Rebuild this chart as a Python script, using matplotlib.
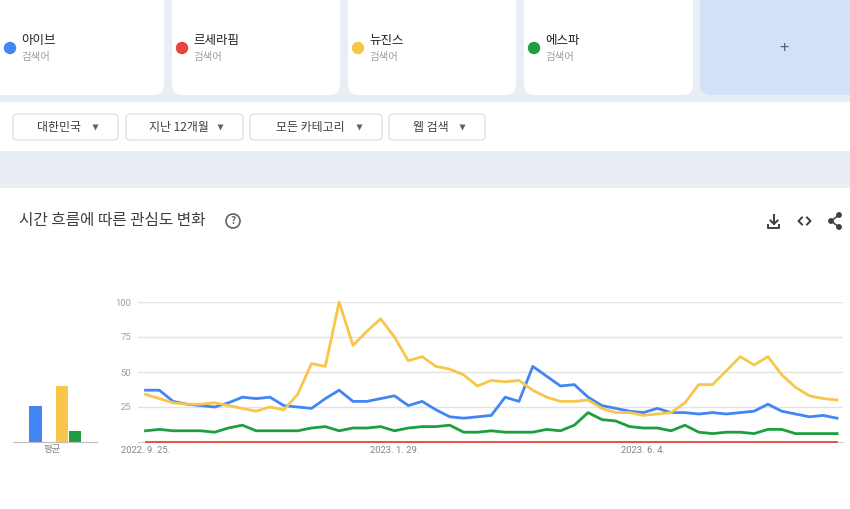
import numpy as np
import pandas as pd
import matplotlib
matplotlib.use('Agg')
import matplotlib.pyplot as plt
from matplotlib.patches import FancyBboxPatch, Rectangle, Circle

plt.rcParams['font.family'] = ['Noto Sans CJK KR', 'DejaVu Sans']

# 검색어 / 색상
terms = ['아이브', '르세라핌', '뉴진스', '에스파']
colors = ['#4285f4', '#e8453c', '#f7c64b', '#1e9e40']
averages = [26, 0, 40, 8]

# 주간 관심도 (2022. 9. 25. 부터)
start_date = '2022-09-25'
ive = [37, 37, 29, 27, 26, 25, 28, 32, 31, 32, 26, 25, 24, 31, 37, 29, 29, 31, 33, 26,
       29, 23, 18, 17, 18, 19, 32, 29, 54, 47, 40, 41, 32, 26, 24, 22, 21, 24, 21, 21,
       20, 21, 20, 21, 22, 27, 22, 20, 18, 19, 17]
lesserafim = [0, 0, 0, 0, 0, 0, 0, 0, 0, 0, 0, 0, 0, 0, 0, 0, 0, 0, 0, 0,
              0, 0, 0, 0, 0, 0, 0, 0, 0, 0, 0, 0, 0, 0, 0, 0, 0, 0, 0, 0,
              0, 0, 0, 0, 0, 0, 0, 0, 0, 0, 0]
newjeans = [34, 31, 28, 27, 27, 28, 26, 24, 22, 25, 23, 34, 56, 54, 100, 69, 79, 88, 75, 58,
            61, 54, 52, 48, 40, 44, 43, 44, 37, 32, 29, 29, 30, 24, 21, 21, 19, 20, 21, 28,
            41, 41, 51, 61, 55, 61, 48, 39, 33, 31, 30]
aespa = [8, 9, 8, 8, 8, 7, 10, 12, 8, 8, 8, 8, 10, 11, 8, 10, 10, 11, 8, 10,
         11, 11, 12, 7, 7, 8, 7, 7, 7, 9, 8, 12, 21, 16, 15, 11, 10, 10, 8, 12,
         7, 6, 7, 7, 6, 9, 9, 6, 6, 6, 6]

tick_dates = ['2022-09-25', '2023-01-29', '2023-06-04']
tick_labels = ['2022. 9. 25.', '2023. 1. 29.', '2023. 6. 4.']
filters = ['대한민국', '지난 12개월', '모든 카테고리', '웹 검색']

series = [ive, lesserafim, newjeans, aespa]
dates = pd.date_range(start_date, periods=len(ive), freq='7D')

W, H = 850, 509
fig = plt.figure(figsize=(W / 100, H / 100), dpi=100)
fig.patch.set_facecolor('#e9edf4')

# --- 배경 UI (픽셀 좌표) ---
bg = fig.add_axes([0, 0, 1, 1])
bg.set_xlim(0, W)
bg.set_ylim(H, 0)
bg.axis('off')

def rbox(x, y, w, h, fc, ec='none', r=8, lw=1):
    bg.add_patch(FancyBboxPatch((x, y), w, h, boxstyle=f'round,pad=0,rounding_size={r}',
                                fc=fc, ec=ec, lw=lw))

card_x = [-10, 172, 348, 524]
card_w = [174, 168, 168, 169]
for cx, cw, term, c in zip(card_x, card_w, terms, colors):
    rbox(cx, -12, cw, 107, 'white', r=10)
    dx = cx + 10 if cx > 0 else 10
    bg.add_patch(Circle((dx, 48), 5.5, color=c))
    bg.text(dx + 11, 40, term, fontsize=9, color='#202124', va='center')
    bg.text(dx + 11, 57, '검색어', fontsize=7.5, color='#9aa0a6', va='center')
rbox(700, -12, 170, 107, '#d3e1f7', r=10)
bg.text(784, 48, '+', fontsize=12, color='#5f6368', ha='center', va='center')

# 필터 줄
bg.add_patch(Rectangle((0, 102), W, 49, fc='white', ec='none'))
btn_x = [13, 126, 250, 389]
btn_w = [105, 117, 132, 96]
for bx, bw, label in zip(btn_x, btn_w, filters):
    rbox(bx, 114, bw, 26, 'white', ec='#dadce0', r=4, lw=0.8)
    bg.text(bx + bw / 2 - 6, 127, label, fontsize=8.6, color='#3c4043',
            ha='center', va='center')
    bg.plot(bx + bw - 23, 127, marker='v', ms=4, color='#5f6368', mec='none')

# 차트 카드
bg.add_patch(Rectangle((0, 188), W, 330, fc='white', ec='none'))
bg.text(19, 221, '시간 흐름에 따른 관심도 변화', fontsize=11.3, color='#3c4043', va='center')
bg.add_patch(Circle((233, 221), 7, fc='none', ec='#5f6368', lw=1.2))
bg.text(233, 221.5, '?', fontsize=7.5, color='#5f6368', ha='center', va='center',
        fontweight='bold')

# 아이콘: 다운로드, 임베드, 공유
ic = '#3c4043'
bg.plot([774, 774], [215, 224], color=ic, lw=1.4)
bg.plot([770.5, 774, 777.5], [220.5, 224, 220.5], color=ic, lw=1.4)
bg.plot([768.5, 768.5, 779.5, 779.5], [224.5, 227.5, 227.5, 224.5], color=ic, lw=1.4)
bg.plot([802, 798.5, 802], [217.5, 221, 224.5], color=ic, lw=1.4)
bg.plot([807, 810.5, 807], [217.5, 221, 224.5], color=ic, lw=1.4)
bg.plot([839, 831, 839], [215, 221, 227], color=ic, lw=1.1)
for px, py in [(839, 215), (831, 221), (839, 227)]:
    bg.add_patch(Circle((px, py), 2.2, color=ic))

# --- 평균 막대 ---
axb = fig.add_axes([13 / W, (H - 442) / H, 84 / W, 140 / H])
axb.patch.set_alpha(0)
axb.bar(range(len(terms)), averages, width=0.94, color=colors)
axb.set_xlim(-1.70, 4.66)
axb.set_ylim(0, 100)
for s in ['top', 'right', 'left']:
    axb.spines[s].set_visible(False)
axb.spines['bottom'].set_color('#bdbdbd')
axb.set_yticks([])
axb.set_xticks([1.25])
axb.set_xticklabels(['평균'], fontsize=6.8, color='#80868b')
axb.tick_params(axis='x', length=0, pad=2)

# --- 시간 흐름 선 그래프 ---
ax = fig.add_axes([138 / W, (H - 442) / H, 705 / W, 140 / H])
ax.patch.set_alpha(0)
for vals, c in zip(series, colors):
    lw = 1.3 if c == colors[1] else 2
    ax.plot(dates, vals, color=c, lw=lw, solid_joinstyle='round', clip_on=False, zorder=3)
ax.set_ylim(0, 100)
ax.set_xlim(dates[0] - pd.Timedelta(days=3.8), dates[0] + pd.Timedelta(days=353))
ax.set_yticks([25, 50, 75, 100])
ax.set_yticklabels(['25', '50', '75', '100'], fontsize=6.8, color='#9aa0a6',
                   family=['Roboto', 'DejaVu Sans'])
ax.set_xticks(pd.to_datetime(tick_dates))
ax.set_xticklabels(tick_labels, fontsize=6.8, color='#80868b',
                   family=['Roboto', 'DejaVu Sans'])
ax.tick_params(axis='both', length=0)
ax.tick_params(axis='y', pad=5)
ax.tick_params(axis='x', pad=3)
ax.grid(axis='y', color='#e3e3e3', lw=1)
for s in ['top', 'right', 'left']:
    ax.spines[s].set_visible(False)
ax.spines['bottom'].set_color('#cfcfcf')
ax.spines['bottom'].set_zorder(1)

fig.savefig('out.png', dpi=100, facecolor=fig.get_facecolor())
